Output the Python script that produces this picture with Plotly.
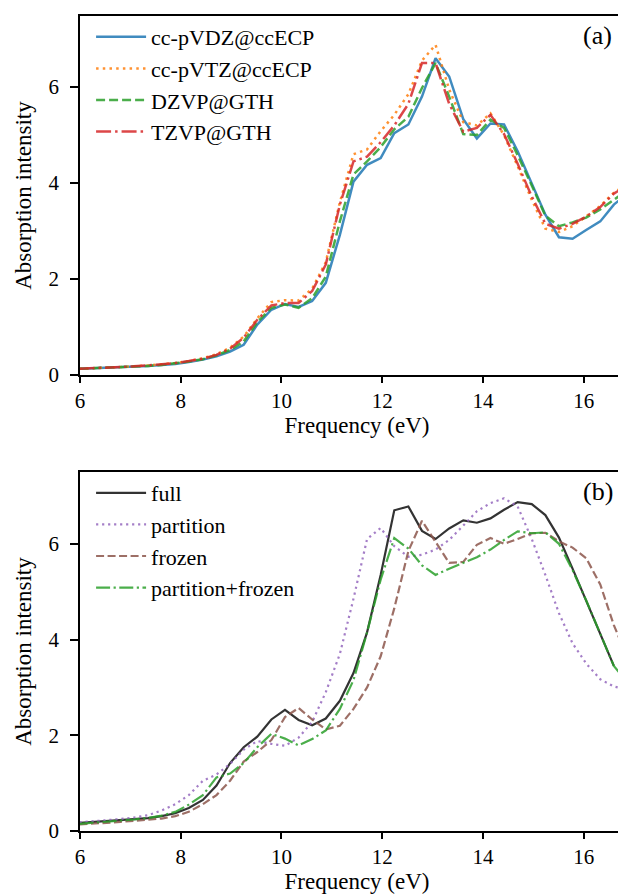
import plotly.graph_objects as go

# shared frequency grid (eV)
freq = [5.99, 6.26, 6.53, 6.80, 7.07, 7.35, 7.62, 7.89, 8.16, 8.44, 8.71, 8.98, 9.25, 9.52,
        9.80, 10.07, 10.34, 10.61, 10.88, 11.16, 11.43, 11.70, 11.97, 12.24, 12.52, 12.79,
        13.06, 13.33, 13.61, 13.88, 14.15, 14.42, 14.69, 14.97, 15.24, 15.51, 15.78, 16.05,
        16.33, 16.60, 16.87, 17.14]

# panel (a)
cc_pvdz = [0.13, 0.14, 0.15, 0.16, 0.17, 0.19, 0.21, 0.23, 0.27, 0.32, 0.39, 0.49, 0.63, 1.05,
           1.36, 1.48, 1.42, 1.54, 1.92, 2.92, 4.03, 4.38, 4.52, 5.04, 5.22, 5.80, 6.60, 6.22,
           5.33, 4.93, 5.24, 5.22, 4.66, 3.98, 3.34, 2.87, 2.84, 3.02, 3.20, 3.55, 3.78, 3.92]
cc_pvtz = [0.13, 0.14, 0.15, 0.16, 0.18, 0.20, 0.22, 0.25, 0.29, 0.35, 0.43, 0.57, 0.80, 1.18,
           1.52, 1.56, 1.55, 1.80, 2.35, 3.60, 4.60, 4.70, 5.08, 5.42, 5.85, 6.55, 6.88, 5.95,
           5.27, 5.20, 5.45, 5.00, 4.35, 3.65, 3.05, 2.98, 3.10, 3.30, 3.52, 3.80, 3.98, 4.10]
dzvp = [0.13, 0.14, 0.15, 0.16, 0.17, 0.19, 0.21, 0.24, 0.28, 0.33, 0.41, 0.52, 0.70, 1.10,
        1.40, 1.47, 1.40, 1.60, 2.05, 3.20, 4.18, 4.45, 4.75, 5.12, 5.38, 5.98, 6.50, 5.80,
        5.02, 5.00, 5.32, 5.15, 4.58, 3.95, 3.32, 3.10, 3.18, 3.28, 3.45, 3.65, 3.85, 3.95]
tzvp = [0.13, 0.14, 0.15, 0.16, 0.18, 0.20, 0.22, 0.25, 0.29, 0.34, 0.42, 0.55, 0.78, 1.15,
        1.45, 1.50, 1.50, 1.75, 2.30, 3.55, 4.45, 4.55, 4.85, 5.20, 5.65, 6.50, 6.50, 5.65,
        5.07, 5.15, 5.42, 5.02, 4.40, 3.72, 3.15, 3.05, 3.15, 3.30, 3.50, 3.78, 3.95, 4.05]

# panel (b)
full = [0.17, 0.19, 0.21, 0.23, 0.25, 0.27, 0.31, 0.37, 0.48, 0.65, 0.95, 1.42, 1.75, 1.97,
        2.33, 2.53, 2.32, 2.21, 2.35, 2.72, 3.30, 4.15, 5.35, 6.70, 6.78, 6.27, 6.10, 6.32,
        6.49, 6.44, 6.53, 6.71, 6.87, 6.83, 6.60, 6.13, 5.48, 4.82, 4.13, 3.45]
partition = [0.18, 0.20, 0.22, 0.25, 0.28, 0.33, 0.43, 0.56, 0.75, 1.05, 1.18, 1.40, 1.70, 1.88,
             1.82, 1.78, 1.95, 2.28, 2.90, 3.70, 4.85, 6.10, 6.33, 5.95, 5.73, 5.77, 5.88, 6.08,
             6.38, 6.68, 6.85, 6.95, 6.78, 6.10, 5.35, 4.55, 3.92, 3.50, 3.17, 3.02, 2.95, 2.92]
frozen = [0.14, 0.15, 0.17, 0.19, 0.21, 0.23, 0.26, 0.31, 0.40, 0.56, 0.75, 1.05, 1.45, 1.65,
          1.90, 2.38, 2.57, 2.33, 2.12, 2.20, 2.55, 3.00, 3.65, 4.65, 5.85, 6.48, 6.05, 5.60,
          5.62, 5.98, 6.12, 6.00, 6.10, 6.22, 6.23, 6.05, 5.92, 5.70, 5.15, 4.30, 3.62, 3.20]
part_frozen = [0.15, 0.17, 0.19, 0.21, 0.24, 0.27, 0.32, 0.40, 0.55, 0.75, 1.12, 1.20, 1.42, 1.75,
               2.03, 1.93, 1.79, 1.92, 2.10, 2.55, 3.15, 4.15, 5.25, 6.12, 5.90, 5.55, 5.35, 5.48,
               5.60, 5.72, 5.88, 6.08, 6.26, 6.22, 6.24, 6.00, 5.45, 4.82, 4.12, 3.45, 3.10, 2.85]

x_ticks = [6, 8, 10, 12, 14, 16]
y_ticks = [0, 2, 4, 6]

FONT = "Liberation Serif"
LW_A = 2.5
LW_B = 2.2

fig = go.Figure()

series_a = [
    ("cc-pVDZ@ccECP", cc_pvdz, "rgba(31,119,180,0.85)", "solid"),
    ("cc-pVTZ@ccECP", cc_pvtz, "rgba(255,127,14,0.85)", "2.5px,4.2px"),
    ("DZVP@GTH", dzvp, "rgba(44,160,44,0.85)", "9px,4px"),
    ("TZVP@GTH", tzvp, "rgba(214,39,40,0.85)", "15px,4px,2.5px,4px"),
]
for i, (name, ys, col, dash) in enumerate(series_a):
    fig.add_trace(go.Scatter(x=freq[:len(ys)], y=ys, mode="lines", name=name,
                             line=dict(color=col, width=LW_A, dash=dash),
                             xaxis="x", yaxis="y", legend="legend",
                             legendgroup="a%d" % i))

series_b = [
    ("full", full, "rgba(0,0,0,0.8)", "solid"),
    ("partition", partition, "rgba(148,103,189,0.85)", "2.2px,3.8px"),
    ("frozen", frozen, "rgba(140,86,75,0.85)", "8px,3.5px"),
    ("partition+frozen", part_frozen, "rgba(44,160,44,0.85)", "14px,3.5px,2.2px,3.5px"),
]
for i, (name, ys, col, dash) in enumerate(series_b):
    fig.add_trace(go.Scatter(x=freq[:len(ys)], y=ys, mode="lines", name=name,
                             line=dict(color=col, width=LW_B, dash=dash),
                             xaxis="x2", yaxis="y2", legend="legend2",
                             legendgroup="b%d" % i))

axis_common = dict(showline=True, linecolor="black", linewidth=1.8, ticks="outside",
                   tickwidth=1.8, tickcolor="black", showgrid=False,
                   zeroline=False, tickfont=dict(family=FONT, size=21, color="black"))
xcommon = dict(ticklen=6, **axis_common)
ycommon = dict(ticklen=8, ticklabelstandoff=7, **axis_common)
title_font = dict(family=FONT, size=23, color="black")

fig.update_layout(
    width=626, height=894,
    margin=dict(l=72, r=0, t=8, b=71),
    plot_bgcolor="white", paper_bgcolor="white",
    font=dict(family=FONT, color="black"),
    xaxis=dict(domain=[0, 1], anchor="y", range=[6, 17], tickvals=x_ticks, mirror=True,
               title=dict(text="Frequency (eV)", font=title_font, standoff=5), **xcommon),
    yaxis=dict(domain=[0.5595, 1], anchor="x", range=[0, 7.48], tickvals=y_ticks,
               title=dict(text="Absorption intensity", font=title_font, standoff=10), **ycommon),
    xaxis2=dict(domain=[0, 1], anchor="y2", range=[6, 17], tickvals=x_ticks, mirror=True,
                title=dict(text="Frequency (eV)", font=title_font, standoff=5), **xcommon),
    yaxis2=dict(domain=[0, 0.4405], anchor="x2", range=[0, 7.5], tickvals=y_ticks,
                title=dict(text="Absorption intensity", font=title_font, standoff=10), **ycommon),
    legend=dict(x=0.02, y=1.0, xanchor="left", yanchor="top", bgcolor="rgba(0,0,0,0)",
                font=dict(family=FONT, size=22), itemwidth=50, tracegroupgap=0),
    legend2=dict(x=0.02, y=0.4405, xanchor="left", yanchor="top", bgcolor="rgba(0,0,0,0)",
                 font=dict(family=FONT, size=22), itemwidth=50, tracegroupgap=0),
    annotations=[
        dict(text="(a)", xref="x domain", yref="y domain", x=0.935, y=0.945,
             xanchor="center", yanchor="middle", showarrow=False,
             font=dict(family=FONT, size=26, color="black")),
        dict(text="(b)", xref="x2 domain", yref="y2 domain", x=0.935, y=0.945,
             xanchor="center", yanchor="middle", showarrow=False,
             font=dict(family=FONT, size=26, color="black")),
    ],
)

fig.write_html("out.html")
